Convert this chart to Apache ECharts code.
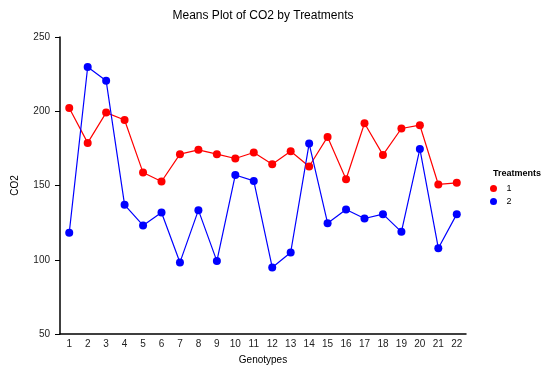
<!DOCTYPE html>
<html><head><meta charset="utf-8">
<script src="https://cdn.jsdelivr.net/npm/echarts@6/dist/echarts.min.js"></script>
<style>html,body{margin:0;padding:0;background:#fff}#c{width:544px;height:367px}</style>
</head><body><div id="c"></div>
<script>
var genotypes = ['1','2','3','4','5','6','7','8','9','10','11','12','13','14','15','16','17','18','19','20','21','22'];
var treatment1 = [202.2,178.7,199.1,194.1,158.7,152.7,171.1,174.0,171.1,168.2,172.2,164.3,173.1,162.8,182.7,154.2,191.9,170.6,188.4,190.6,150.7,151.8];
var treatment2 = [118.1,229.8,220.6,137.0,123.1,131.8,98.2,133.4,99.1,157.1,153.1,94.8,104.9,178.2,124.6,133.8,127.8,130.7,118.8,174.6,107.8,130.7];
var seriesNames = ['1','2'];
var yTicks = [50,100,150,200,250];

var font = 'Liberation Sans, Arial, sans-serif';
var chart = echarts.init(document.getElementById('c'), null, {renderer:'canvas'});
chart.setOption({
  animation:false,
  backgroundColor:'#fff',
  title:[{text:'Means Plot of CO2 by Treatments', left:263, top:10, textAlign:'center', padding:0,
    textStyle:{fontFamily:font,fontSize:12,fontWeight:'normal',color:'#000'}},
    {text:'Treatments', left:493, top:169, padding:0, textStyle:{fontFamily:font,fontSize:9,fontWeight:'bold',color:'#000'}}],
  legend:{orient:'vertical', left:490, top:184, padding:0, itemGap:4, itemWidth:8, itemHeight:7,
    data:[{name:seriesNames[0],icon:'circle'},{name:seriesNames[1],icon:'circle'}],
    textStyle:{fontFamily:font,fontSize:9,color:'#000',padding:[0,0,0,4]}},
  grid:{left:60,right:78,top:37,bottom:33,containLabel:false,outerBoundsMode:'none'},
  xAxis:{type:'category', data:genotypes, boundaryGap:true, name:'Genotypes', nameLocation:'middle', nameGap:21,
    nameTextStyle:{fontFamily:font,fontSize:10,color:'#000'},
    axisLine:{lineStyle:{color:'#000',width:1.5}},
    axisTick:{alignWithLabel:true,length:4,lineStyle:{color:'#000'}},
    axisLabel:{fontFamily:font,fontSize:10,color:'#222',margin:5,interval:0},
    splitLine:{show:false}},
  yAxis:{type:'value', min:yTicks[0], max:yTicks[yTicks.length-1], interval:50, name:'CO2', nameLocation:'middle', nameGap:40,
    nameTextStyle:{fontFamily:font,fontSize:10,color:'#000'},
    axisLine:{show:true,lineStyle:{color:'#000',width:1.5}},
    axisTick:{show:true,length:5,lineStyle:{color:'#000'}},
    axisLabel:{fontFamily:font,fontSize:10,color:'#222',margin:10},
    splitLine:{show:false}},
  series:[
    {name:seriesNames[0], type:'line', data:treatment1, symbol:'circle', symbolSize:8,
      itemStyle:{color:'#ff0000'}, lineStyle:{color:'#ff0000',width:1.2}},
    {name:seriesNames[1], type:'line', data:treatment2, symbol:'circle', symbolSize:8,
      itemStyle:{color:'#0000ff'}, lineStyle:{color:'#0000ff',width:1.2}}
  ]
});
</script></body></html>
